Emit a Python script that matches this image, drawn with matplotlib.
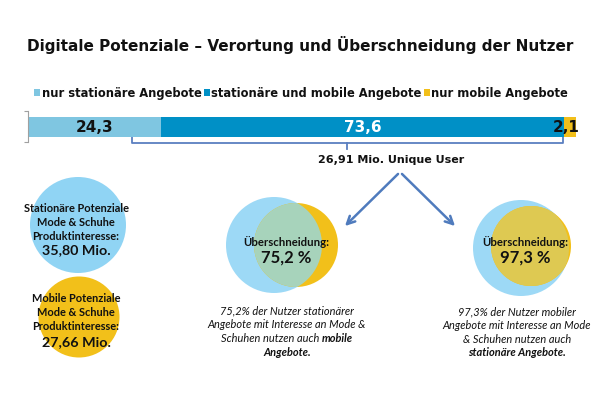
import numpy as np
import matplotlib
matplotlib.use('Agg')
import matplotlib.pyplot as plt
from matplotlib.patches import Circle

# data
segments = ['nur stationäre Angebote', 'stationäre und mobile Angebote', 'nur mobile Angebote']
shares = [24.3, 73.6, 2.1]
seg_colors = ['#7fc6e1', '#0090c6', '#f2bf1a']
label_colors = ['#111111', '#ffffff', '#111111']
total_users = '26,91 Mio. Unique User'
potentials = [('Stationäre Potenziale', '35,80 Mio.'), ('Mobile Potenziale', '27,66 Mio.')]
overlaps = [75.2, 97.3]

def de(v, fmt='%.1f'):
    return (fmt % v).replace('.', ',')

fig = plt.figure(figsize=(6.0, 3.97), dpi=100)

# overlay in pixel coords for the drawing parts
ax0 = fig.add_axes([0, 0, 1, 1])
ax0.set_xlim(0, 600)
ax0.set_ylim(397, 0)
ax0.axis('off')

ax0.text(300, 45, 'Digitale Potenziale \u2013 Verortung und Überschneidung der Nutzer',
         ha='center', va='center', fontsize=11, fontweight='bold', color='#111111')

# stacked bar
H = 397.0
ax = fig.add_axes([28 / 600, (H - 142) / H, 548 / 600, 31 / H])
ax.patch.set_alpha(0)
left = 0
bars = []
for name, v, c, lc in zip(segments, shares, seg_colors, label_colors):
    b = ax.barh(0, v, left=left, height=20 / 31, color=c, label=name)
    bars.append(b)
    xt = left + v / 2
    if v < 5:
        xt = left + v / 2 - 0.8
    ax.text(xt, -0.02, de(v), ha='center', va='center', fontsize=11,
            fontweight='bold', color=lc)
    left += v
ax.set_xlim(0, 100)
ax.set_ylim(-0.5, 0.5)
for s in ['top', 'right', 'bottom']:
    ax.spines[s].set_visible(False)
ax.spines['left'].set_color('#a0a0a0')
ax.spines['left'].set_linewidth(0.8)
ax.set_xticks([])
ax.set_yticks([-0.5, 0.5])
ax.set_yticklabels([])
ax.tick_params(axis='y', direction='out', length=3, color='#a0a0a0', width=0.8)

leg = fig.legend(handles=bars, labels=segments, loc='center', ncol=3,
                 bbox_to_anchor=(0.502, (H - 93) / H), frameon=False,
                 prop={'size': 8.3, 'weight': 'bold'}, handlelength=0.5,
                 handleheight=0.5, handletextpad=0.15, columnspacing=0.2,
                 borderaxespad=0)
for t in leg.get_texts():
    t.set_color('#111111')

# bracket under stationary+mobile users
bc = '#5a7fc0'
ax0.plot([132, 132, 563, 563], [137, 143, 143, 137], color=bc, lw=1.3)
ax0.plot([347, 347], [143, 149], color=bc, lw=1.3)
ax0.text(391, 160, total_users, ha='center', va='center', fontsize=8,
         fontweight='bold', color='#111111')

# arrows
for tx in [343, 457]:
    ax0.annotate('', xy=(tx, 228), xytext=(400, 172),
                 arrowprops=dict(arrowstyle='->', color='#4f7bbd', lw=1.8,
                                 mutation_scale=14))

cj = ['Lato', 'DejaVu Sans']
lblue = '#90d4f4'
yel = '#f2c01a'

# left potential circles
ax0.add_patch(Circle((78, 225), 48, color=lblue, lw=0))
ax0.add_patch(Circle((79, 317), 40.5, color=yel, lw=0))
for (name, val), yy, dv in zip(potentials, [208, 298], [42, 44]):
    for i, line in enumerate([name, 'Mode & Schuhe', 'Produktinteresse:']):
        ax0.text(76, yy + i * 14, line, ha='center', va='center', fontsize=7.9,
                 fontweight='bold', family=cj, color='#111111')
    ax0.text(76, yy + dv, val, ha='center', va='center', fontsize=10.3,
             fontweight='bold', family=cj, color='#111111')

# middle venn (stationary users also mobile)
b1 = Circle((274, 245), 48, color='#9dd9f6', lw=0)
y1 = Circle((296, 245), 42, color=yel, lw=0)
ax0.add_patch(b1)
ax0.add_patch(y1)
g1 = Circle((274, 245), 48, color='#a7d3bb', lw=0)
ax0.add_patch(g1)
g1.set_clip_path(Circle((296, 245), 42, transform=ax0.transData))

# right venn (mobile users also stationary)
b2 = Circle((521, 248), 48, color='#9dd9f6', lw=0)
y2 = Circle((531, 246), 40, color=yel, lw=0)
ax0.add_patch(b2)
ax0.add_patch(y2)
g2 = Circle((521, 248), 48, color='#dec952', lw=0)
ax0.add_patch(g2)
g2.set_clip_path(Circle((531, 246), 40, transform=ax0.transData))

for xx, v in zip([286, 525], overlaps):
    ax0.text(xx, 242, 'Überschneidung:', ha='center', va='center', fontsize=8.2,
             fontweight='bold', family=cj, color='#111111')
    ax0.text(xx, 258, de(v) + ' %', ha='center', va='center', fontsize=12,
             fontweight='bold', family=cj, color='#111111')

# captions
fs = 7.9
cap1 = [de(overlaps[0]) + '% der Nutzer stationärer', 'Angebote mit Interesse an Mode &']
cap2 = [de(overlaps[1]) + '% der Nutzer mobiler', 'Angebote mit Interesse an Mode', '& Schuhen nutzen auch']
for i, line in enumerate(cap1):
    ax0.text(287, 311 + i * 13.7, line, ha='center', va='center', fontsize=fs,
             style='italic', family=cj, color='#111111')

# mixed normal / bold line, measured so the pair is centred
r = fig.canvas.get_renderer()
part = ax0.text(0, 0, 'Schuhen nutzen auch ', fontsize=fs, style='italic', family=cj)
bold = ax0.text(0, 0, 'mobile', fontsize=fs, style='italic', fontweight='bold', family=cj)
wp = part.get_window_extent(r).width
wb = bold.get_window_extent(r).width
part.remove()
bold.remove()
x0 = 287 - (wp + wb) / 2
ax0.text(x0, 338.5, 'Schuhen nutzen auch ', ha='left', va='center', fontsize=fs,
         style='italic', family=cj, color='#111111')
ax0.text(x0 + wp, 338.5, 'mobile', ha='left', va='center', fontsize=fs,
         style='italic', fontweight='bold', family=cj, color='#111111')
ax0.text(287, 352, 'Angebote.', ha='center', va='center', fontsize=fs,
         style='italic', fontweight='bold', family=cj, color='#111111')

for i, line in enumerate(cap2):
    ax0.text(517, 312 + i * 13.7, line, ha='center', va='center', fontsize=fs,
             style='italic', family=cj, color='#111111')
ax0.text(517, 353, 'stationäre Angebote.', ha='center', va='center', fontsize=fs,
         style='italic', fontweight='bold', family=cj, color='#111111')

fig.savefig('out.png', dpi=100, facecolor='white')
